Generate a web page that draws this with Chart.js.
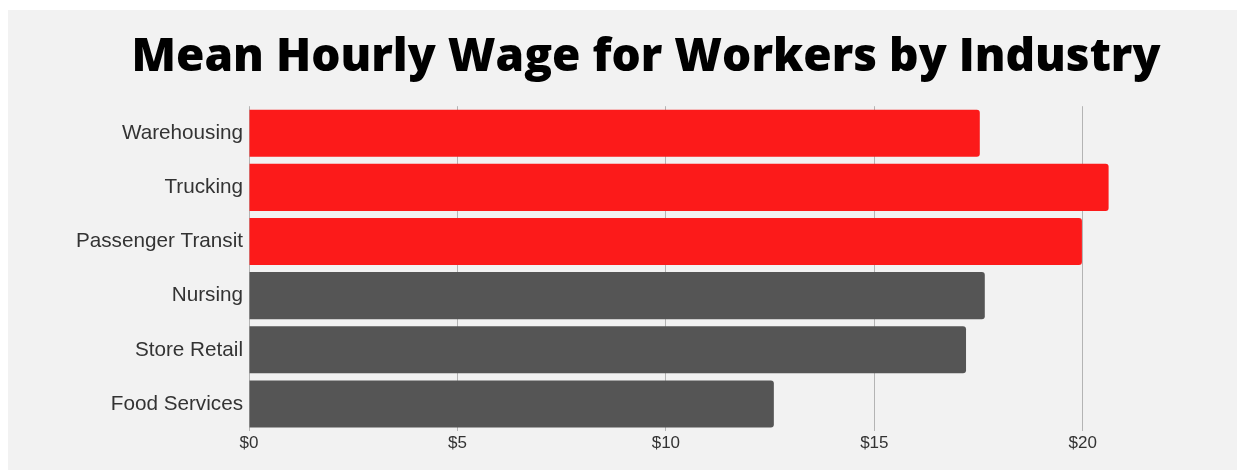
<!DOCTYPE html>
<html>
<head>
<meta charset="utf-8">
<script src="https://cdn.jsdelivr.net/npm/chart.js@4/dist/chart.umd.min.js"></script>
<style>
  html, body { margin: 0; padding: 0; background: #ffffff; }
  #panel {
    position: absolute;
    left: 8px;
    top: 10px;
    width: 1229px;
    height: 460px;
    background: #f2f2f2;
  }
</style>
</head>
<body>
<div id="panel"><canvas id="wage-chart" width="1229" height="460"></canvas></div>
<script>
const industries = [
  "Warehousing",
  "Trucking",
  "Passenger Transit",
  "Nursing",
  "Store Retail",
  "Food Services",
];
const meanHourlyWage = [17.53, 20.62, 19.98, 17.65, 17.2, 12.59];
const barColors = ["#fc1a1a", "#fc1a1a", "#fc1a1a", "#555555", "#555555", "#555555"];
const xTickValues = [0, 5, 10, 15, 20];

document.addEventListener("DOMContentLoaded", () => {
  const ctx = document.getElementById("wage-chart").getContext("2d");
  window.wageChart = new Chart(ctx, {
    type: "bar",
    data: {
      labels: industries,
      datasets: [
        {
          label: "Mean Hourly Wage",
          data: meanHourlyWage,
          backgroundColor: barColors,
          borderRadius: 3,
          barPercentage: 0.87,
          categoryPercentage: 1,
        },
      ],
    },
    options: {
      indexAxis: "y",
      responsive: false,
      animation: false,
      // left padding shifts the title centre to match the reference
      layout: {
        padding: { left: 47, right: 0, top: 0, bottom: 0 },
      },
      scales: {
        x: {
          min: 0,
          max: 23.7,
          border: { display: false },
          grid: { color: "#b4b4b4", drawTicks: false },
          afterBuildTicks: (scale) => {
            scale.ticks = xTickValues.map((v) => ({ value: v }));
          },
          afterFit: (scale) => {
            scale.height = 39;
          },
          ticks: {
            padding: 2,
            color: "#333333",
            font: { family: "Liberation Sans", size: 17 },
            callback: (v) => "$" + v,
          },
        },
        y: {
          border: { display: false },
          grid: { display: false, drawTicks: false },
          afterFit: (scale) => {
            scale.width = 194;
          },
          ticks: {
            padding: 6,
            color: "#333333",
            font: { family: "Liberation Sans", size: 20.7 },
          },
        },
      },
      plugins: {
        legend: { display: false },
        tooltip: { enabled: false },
        title: {
          display: true,
          text: "Mean Hourly Wage for Workers by Industry",
          color: "#000000",
          font: { family: "Open Sans", size: 46, weight: "800", lineHeight: 1.2 },
          padding: { top: 20, bottom: 21 },
        },
      },
    },
  });
});
</script>
</body>
</html>
